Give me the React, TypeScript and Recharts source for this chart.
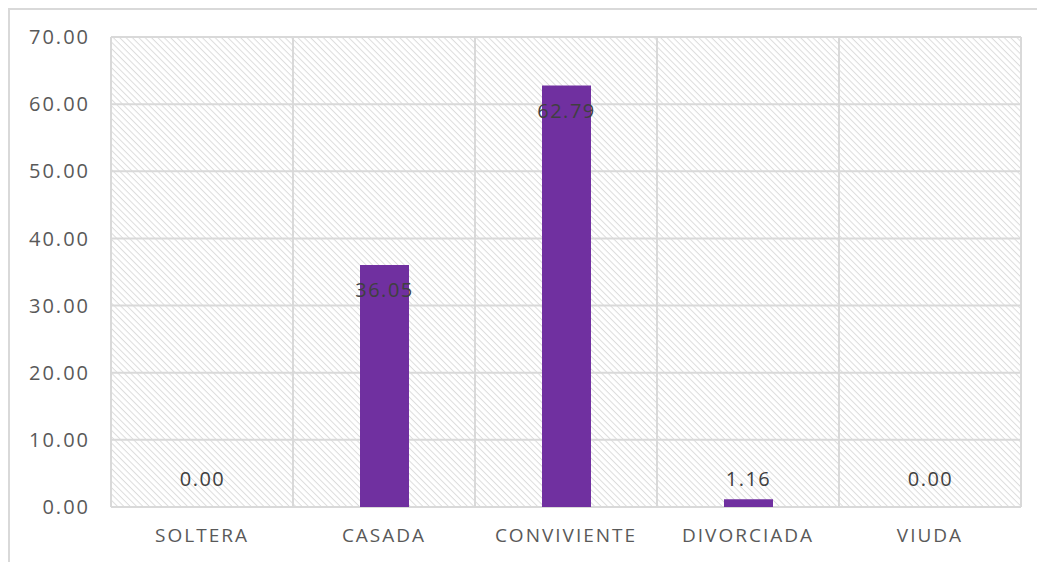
import { BarChart, Bar, XAxis, YAxis, CartesianGrid, LabelList, Rectangle } from 'recharts';

const categories = ['SOLTERA', 'CASADA', 'CONVIVIENTE', 'DIVORCIADA', 'VIUDA'];
const percentages = [0.0, 36.05, 62.79, 1.16, 0.0];
const yTicks = [0, 10, 20, 30, 40, 50, 60, 70];

const data = categories.map((name, i) => ({ name, value: percentages[i] }));

const FONT = '"Open Sans", sans-serif';

const ValueLabel = (props: any) => {
  const { x, y, width, height, value } = props;
  const base = y + height;
  const ty = height > 40 ? y + 27 : base - 26;
  return (
    <text x={x + width / 2} y={ty} textAnchor="middle" dominantBaseline="middle"
      fontFamily={FONT} fontSize={20} letterSpacing={1.5} fill="#404040">
      {Number(value).toFixed(2)}
    </text>
  );
};

// zero values keep a 1px slot so the label is still drawn, but no visible bar
const BarShape = (props: any) => (props.value > 0 || props.payload?.value > 0 ? <Rectangle {...props} /> : null);

const App = () => (
  <div style={{ position: 'relative', width: 1037, height: 554, borderTop: '2px solid #d9d9d9', borderLeft: '2px solid #d9d9d9', boxSizing: 'border-box' }}>
    <div style={{ position: 'absolute', left: 0, top: 0 }}>
      <BarChart width={1035} height={552} data={data}
        margin={{ top: 27, right: 24, left: 0, bottom: 0 }}>
        <defs>
          <pattern id="hatch" patternUnits="userSpaceOnUse" width="4.5" height="4.5" patternTransform="rotate(45)">
            <rect width="4.5" height="4.5" fill="#ffffff" />
            <line x1="0" y1="0" x2="4.5" y2="0" stroke="#dcdcdc" strokeWidth={2} />
          </pattern>
        </defs>
        <CartesianGrid fill="url(#hatch)" stroke="#d9d9d9" strokeWidth={2}
          verticalCoordinatesGenerator={({ offset }: any) =>
            categories.concat(['']).map((_, i) => offset.left + (i * offset.width) / categories.length)} />
        <XAxis dataKey="name" axisLine={false} tickLine={false} height={55} tickSize={0} tickMargin={22}
          tick={{ fill: '#595959', fontSize: 19, fontFamily: FONT, letterSpacing: 2 }} />
        <YAxis domain={[0, 70]} ticks={yTicks} width={101} axisLine={false} tickLine={false}
          tickSize={0} tickMargin={21} tickFormatter={(v: number) => v.toFixed(2)}
          tick={{ fill: '#595959', fontSize: 20, fontFamily: FONT, letterSpacing: 2 }} />
        <Bar dataKey="value" fill="#7030A0" barSize={49} minPointSize={1} shape={BarShape} isAnimationActive={false}>
          <LabelList dataKey="value" content={ValueLabel} />
        </Bar>
      </BarChart>
    </div>
  </div>
);

export default App;
